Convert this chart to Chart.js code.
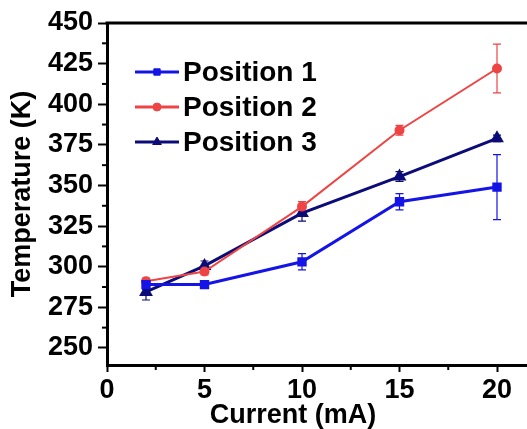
<!DOCTYPE html>
<html>
<head>
<meta charset="utf-8">
<script src="https://cdn.jsdelivr.net/npm/chart.js@4.4.0/dist/chart.umd.min.js"></script>
<style>
  html, body { margin: 0; padding: 0; background: #fff; }
</style>
</head>
<body>
<canvas id="chart" width="527" height="429"></canvas>
<script>
// data
const currents = [2, 5, 10, 15, 20];
const position1 = [289, 289, 303, 340, 349];
const position1Err = [3, 2, 5, 5, 20];
const position2 = [291, 297, 337, 384, 422];
const position2Err = [2, 2, 3, 3, 15];
const position3 = [284.5, 300.5, 333, 355.5, 379];
const position3Err = [5, 3, 5, 3, 2];
const seriesNames = ["Position 1", "Position 2", "Position 3"];
const xTicks = [0, 5, 10, 15, 20];
const yTicks = [250, 275, 300, 325, 350, 375, 400, 425, 450];

const FONT = '"Liberation Sans", Arial, sans-serif';
const PX_PER_MA = 19.5; // x scale in the reference
const errs = [position1Err, position2Err, position3Err];

function pts(vals) {
  return currents.map((x, i) => ({ x, y: vals[i] }));
}

const extras = {
  id: "extras",
  beforeDatasetsDraw(chart) {
    const ctx = chart.ctx, xs = chart.scales.x, ys = chart.scales.y;
    ctx.save();
    chart.data.datasets.forEach((ds, i) => {
      ctx.strokeStyle = ds.borderColor;
      ctx.lineWidth = 1.2;
      ds.data.forEach((p, j) => {
        const e = errs[i][j];
        const x = xs.getPixelForValue(p.x);
        const yt = ys.getPixelForValue(p.y + e);
        const yb = ys.getPixelForValue(p.y - e);
        ctx.beginPath();
        ctx.moveTo(x, yt); ctx.lineTo(x, yb);
        ctx.moveTo(x - 4, yt); ctx.lineTo(x + 4, yt);
        ctx.moveTo(x - 4, yb); ctx.lineTo(x + 4, yb);
        ctx.stroke();
      });
    });
    ctx.restore();
  },
  afterDraw(chart) {
    const ctx = chart.ctx, xs = chart.scales.x, ys = chart.scales.y;
    const area = chart.chartArea;
    const yAxisLine = Math.round(xs.top - 1.5) + 1.5;
    ctx.save();
    // top frame line, and the x axis line carried to the edge (cropped figure)
    ctx.strokeStyle = "#000";
    ctx.lineWidth = 3;
    ctx.lineCap = "butt";
    ctx.beginPath();
    ctx.moveTo(area.left - 1.5, area.top);
    ctx.lineTo(chart.width, area.top);
    ctx.moveTo(area.left, yAxisLine);
    ctx.lineTo(chart.width, yAxisLine);
    ctx.stroke();
    // minor ticks
    ctx.lineWidth = 2;
    for (let v = 262.5; v < 450; v += 25) {
      const y = ys.getPixelForValue(v);
      ctx.beginPath();
      ctx.moveTo(area.left - 5, y); ctx.lineTo(area.left - 1, y);
      ctx.stroke();
    }
    for (let v = 2.5; v < 21.5; v += 5) {
      const x = xs.getPixelForValue(v);
      ctx.beginPath();
      ctx.moveTo(x, area.bottom + 1); ctx.lineTo(x, area.bottom + 5);
      ctx.stroke();
    }
    // legend
    chart.data.datasets.forEach((ds, i) => {
      const y = 72 + i * 35;
      ctx.strokeStyle = ds.borderColor;
      ctx.fillStyle = ds.backgroundColor;
      ctx.lineWidth = 3;
      ctx.beginPath();
      ctx.moveTo(135, y); ctx.lineTo(179, y);
      ctx.stroke();
      ctx.lineWidth = 1;
      Chart.helpers.drawPoint(ctx, {
        pointStyle: ds.pointStyle, radius: ds.pointRadius, borderWidth: 1, rotation: 0
      }, 157, y);
      ctx.fillStyle = "#000";
      ctx.font = "bold 28px " + FONT;
      ctx.textBaseline = "middle";
      ctx.textAlign = "left";
      ctx.fillText(ds.label, 183, y + 1);
    });
    // x axis title
    ctx.fillStyle = "#000";
    ctx.font = "bold 27px " + FONT;
    ctx.textAlign = "center";
    ctx.textBaseline = "middle";
    ctx.fillText("Current (mA)", 293, 416);
    ctx.restore();
  }
};

const chart = new Chart(document.getElementById("chart"), {
  type: "line",
  data: {
    datasets: [
      {
        label: seriesNames[0], data: pts(position1),
        borderColor: "#1414e6", backgroundColor: "#1414e6",
        borderWidth: 3, pointStyle: "rect", pointRadius: 4.5
      },
      {
        label: seriesNames[1], data: pts(position2),
        borderColor: "#ee4444", backgroundColor: "#ee4444",
        borderWidth: 2, pointStyle: "circle", pointRadius: 4
      },
      {
        label: seriesNames[2], data: pts(position3),
        borderColor: "#0c0c78", backgroundColor: "#0c0c78",
        borderWidth: 3, pointStyle: "triangle", pointRadius: 5
      }
    ]
  },
  options: {
    responsive: false,
    animation: false,
    devicePixelRatio: 1,
    layout: { padding: { top: 23, right: 0, left: 0, bottom: 0 } },
    plugins: { legend: { display: false }, tooltip: { enabled: false } },
    scales: {
      x: {
        type: "linear", min: 0, max: 21.5,
        afterBuildTicks: s => { s.ticks = xTicks.map(v => ({ value: v })); },
        afterFit: s => { s.height = 64; s.paddingLeft = 0; s.paddingRight = 0; },
        grid: { display: true, drawOnChartArea: false, drawTicks: true, tickLength: 7, tickWidth: 2, tickColor: "#000" },
        border: { display: true, width: 3, color: "#000" },
        ticks: { color: "#000", padding: 2, font: { family: FONT, size: 27, weight: "bold" } },
        title: { display: false }
      },
      y: {
        min: 239.5, max: 450,
        afterBuildTicks: s => { s.ticks = yTicks.map(v => ({ value: v })); },
        afterFit: s => { s.width = 107; s.paddingTop = 0; s.paddingBottom = 0; },
        grid: { display: true, drawOnChartArea: false, drawTicks: true, tickLength: 9, tickWidth: 2, tickColor: "#000" },
        border: { display: true, width: 3, color: "#000" },
        ticks: { color: "#000", padding: 5, font: { family: FONT, size: 27, weight: "bold" } },
        title: {
          display: true, text: "Temperature (K)", color: "#000", padding: { top: 6, bottom: 0 },
          font: { family: FONT, size: 27, weight: "bold" }
        }
      }
    }
  },
  plugins: [extras]
});

// match the reference's x scale (19.5 px per mA) to whatever width the layout gave
const area = chart.chartArea;
chart.options.scales.x.max = (area.right - area.left) / PX_PER_MA;
chart.update();
</script>
</body>
</html>
